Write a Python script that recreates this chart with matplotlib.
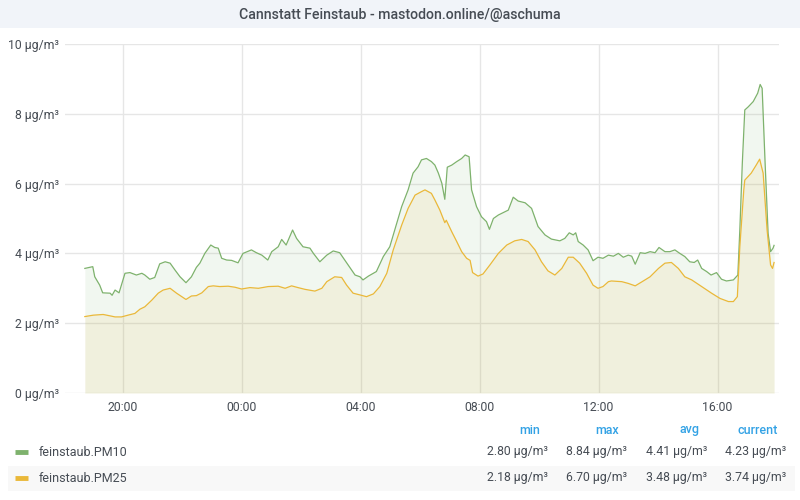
import matplotlib
matplotlib.use("Agg")
import matplotlib.pyplot as plt
from matplotlib.patches import Rectangle

plt.rcParams['font.family'] = ['Roboto', 'DejaVu Sans']

# time in minutes since 18:00 (day 1)
pm10_t = [44, 60, 64, 74, 80, 95, 99, 105, 113, 125, 135, 148, 159, 165, 175, 185, 195, 206, 216, 226,
          236, 248, 259, 269, 276, 286, 298, 306, 313, 320, 330, 340, 353, 363, 380, 390, 401, 413, 421, 434,
          441, 450, 463, 471, 484, 498, 505, 518, 532, 545, 558, 575, 589, 599, 605, 616, 632, 646, 659, 669,
          683, 696, 706, 716, 723, 733, 743, 750, 757, 764, 770, 775, 784, 794, 804, 811, 819, 824, 834, 844,
          854, 860, 868, 878, 888, 898, 908, 918, 932, 945, 958, 972, 985, 1002, 1012, 1021, 1029, 1034, 1039, 1049,
          1059, 1069, 1079, 1089, 1100, 1110, 1120, 1130, 1140, 1147, 1154, 1164, 1174, 1184, 1194, 1202, 1214, 1224, 1234, 1244,
          1254, 1264, 1273, 1280, 1288, 1298, 1307, 1318, 1328, 1338, 1352, 1361, 1365, 1370, 1375, 1382, 1392, 1401, 1406, 1410,
          1416, 1422, 1427, 1432, 1434]
pm10_v = [3.57, 3.62, 3.33, 3.09, 2.87, 2.86, 2.80, 2.95, 2.87, 3.43, 3.45, 3.38, 3.43, 3.38, 3.26, 3.31, 3.70, 3.76, 3.72, 3.52,
          3.33, 3.16, 3.33, 3.60, 3.72, 4.00, 4.24, 4.17, 4.15, 3.86, 3.81, 3.80, 3.73, 4.00, 4.10, 4.02, 3.95, 3.81, 4.05, 4.19,
          4.40, 4.24, 4.67, 4.43, 4.19, 4.15, 4.00, 3.76, 3.95, 4.07, 4.02, 3.67, 3.38, 3.33, 3.24, 3.35, 3.48, 3.91, 4.19, 4.67,
          5.34, 5.82, 6.30, 6.48, 6.68, 6.72, 6.63, 6.53, 6.30, 6.01, 5.55, 6.47, 6.53, 6.63, 6.72, 6.82, 6.77, 5.82, 5.34, 5.05,
          4.91, 4.69, 5.00, 5.10, 5.17, 5.24, 5.61, 5.50, 5.45, 5.29, 4.77, 4.53, 4.41, 4.36, 4.43, 4.59, 4.53, 4.59, 4.34, 4.24,
          4.10, 3.79, 3.89, 3.86, 3.95, 3.92, 4.00, 3.89, 3.95, 3.92, 3.69, 4.02, 4.00, 4.05, 4.02, 4.17, 4.05, 4.05, 4.10, 4.00,
          3.91, 3.76, 3.74, 3.81, 3.57, 3.48, 3.38, 3.45, 3.26, 3.21, 3.24, 3.38, 4.67, 6.58, 8.11, 8.20, 8.35, 8.59, 8.84, 8.73,
          6.58, 4.58, 4.05, 4.15, 4.23]

pm25_t = [44, 61, 81, 95, 105, 118, 131, 145, 155, 165, 179, 192, 202, 216, 229, 248, 259, 269, 280, 293,
          303, 316, 333, 347, 360, 377, 394, 414, 434, 448, 461, 474, 488, 508, 522, 532, 548, 562, 572, 585,
          599, 612, 626, 639, 653, 666, 683, 696, 710, 723, 730, 743, 750, 760, 770, 773, 784, 794, 804, 814,
          821, 826, 837, 847, 861, 878, 895, 911, 925, 938, 952, 965, 978, 992, 1006, 1019, 1029, 1042, 1056, 1069,
          1079, 1089, 1100, 1106, 1127, 1140, 1154, 1168, 1184, 1201, 1214, 1227, 1241, 1254, 1268, 1288, 1308, 1325, 1342, 1352,
          1360, 1365, 1373, 1375, 1388, 1398, 1405, 1412, 1420, 1427, 1431, 1434]
pm25_v = [2.19, 2.23, 2.25, 2.21, 2.18, 2.18, 2.23, 2.28, 2.40, 2.47, 2.66, 2.86, 2.95, 3.00, 2.86, 2.68, 2.78, 2.79, 2.87, 3.05,
          3.07, 3.05, 3.06, 3.03, 2.98, 3.02, 3.00, 3.05, 3.06, 3.00, 3.07, 3.02, 2.97, 2.92, 3.00, 3.19, 3.33, 3.31, 3.09, 2.86,
          2.81, 2.76, 2.84, 3.05, 3.43, 4.10, 4.81, 5.29, 5.67, 5.77, 5.82, 5.72, 5.53, 5.24, 4.88, 4.95, 4.62, 4.34, 4.05, 3.86,
          3.80, 3.45, 3.35, 3.41, 3.67, 4.00, 4.24, 4.36, 4.40, 4.34, 4.10, 3.76, 3.50, 3.38, 3.57, 3.89, 3.89, 3.72, 3.43, 3.09,
          3.00, 3.05, 3.19, 3.21, 3.19, 3.14, 3.07, 3.19, 3.33, 3.57, 3.72, 3.74, 3.57, 3.33, 3.24, 3.05, 2.86, 2.71, 2.62, 2.62,
          2.76, 4.19, 5.82, 6.10, 6.30, 6.53, 6.70, 6.30, 4.67, 3.67, 3.57, 3.74]

tick_pos = [120, 360, 600, 840, 1080, 1320]
tick_labels = ["20:00", "00:00", "04:00", "08:00", "12:00", "16:00"]
y_ticks = [0, 2, 4, 6, 8, 10]
y_labels = ["0 µg/m³", "2 µg/m³", "4 µg/m³", "6 µg/m³", "8 µg/m³", "10 µg/m³"]

series_names = ["feinstaub.PM10", "feinstaub.PM25"]
stat_headers = ["min", "max", "avg", "current"]
stats = [["2.80 µg/m³", "8.84 µg/m³", "4.41 µg/m³", "4.23 µg/m³"],
         ["2.18 µg/m³", "6.70 µg/m³", "3.48 µg/m³", "3.74 µg/m³"]]

GREEN = "#7eb26d"
YELLOW = "#eab839"
TEXT = "#464c54"
W, H = 800, 500

fig = plt.figure(figsize=(8, 5), dpi=100)
fig.patch.set_facecolor("white")

def fx(x):
    return x / W

def fy(y):
    return 1 - y / H

# title bar
fig.patches.append(Rectangle((0, fy(28)), 1, 28 / H, transform=fig.transFigure,
                             facecolor="#f1f4f9", edgecolor="none", zorder=0))
fig.text(0.5, fy(15), "Cannstatt Feinstaub - mastodon.online/@aschuma", ha="center", va="center",
         fontsize=10.2, fontweight="medium", color=TEXT)

ax = fig.add_axes([fx(65), fy(393), fx(779) - fx(65), (393 - 44) / H])
ax.set_facecolor("white")
ax.fill_between(pm10_t, 0, pm10_v, color=GREEN, alpha=0.1, linewidth=0)
ax.plot(pm10_t, pm10_v, color=GREEN, linewidth=0.9)
ax.fill_between(pm25_t, 0, pm25_v, color=YELLOW, alpha=0.1, linewidth=0)
ax.plot(pm25_t, pm25_v, color=YELLOW, linewidth=0.9)

ax.set_xlim(4, 1444)
ax.set_ylim(0, 10)
ax.set_xticks(tick_pos)
ax.set_xticklabels(tick_labels)
ax.set_yticks(y_ticks)
ax.set_yticklabels(y_labels)
ax.grid(True, color="#e6e6e6", linewidth=1)
ax.set_axisbelow(True)
for s in ax.spines.values():
    s.set_visible(False)
ax.tick_params(axis="both", length=0, labelsize=8.8, labelcolor=TEXT)
ax.tick_params(axis="y", pad=4)
ax.tick_params(axis="x", pad=6)

# legend table
fig.patches.append(Rectangle((fx(8), fy(491)), fx(795) - fx(8), 25 / H, transform=fig.transFigure,
                             facecolor="#f8f8f8", edgecolor="none", zorder=0))
col_right = [548, 627, 707, 786]
for hdr, xr in zip(stat_headers, col_right):
    fig.text(fx(xr - 8), fy(430), hdr, ha="right", va="center", fontsize=9, color="#33a2e5",
             fontweight="medium")
row_y = [452, 478]
colors = [GREEN, YELLOW]
for name, c, yy, vals in zip(series_names, colors, row_y, stats):
    fig.lines.append(plt.Line2D([fx(15), fx(28)], [fy(yy), fy(yy)], transform=fig.transFigure,
                                color=c, linewidth=3.5, solid_capstyle="butt"))
    fig.text(fx(39), fy(yy), name, ha="left", va="center", fontsize=9, color=TEXT)
    for v, xr in zip(vals, col_right):
        fig.text(fx(xr), fy(yy), v, ha="right", va="center", fontsize=8.8, color=TEXT)

fig.savefig("out.png", dpi=100, facecolor="white")
